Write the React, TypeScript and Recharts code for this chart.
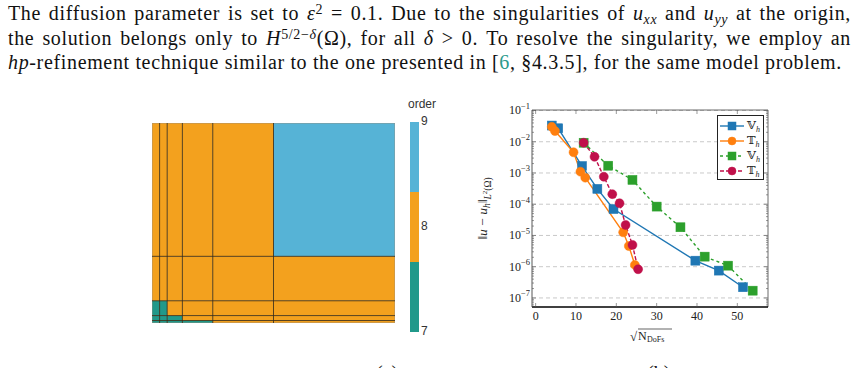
import React from 'react'
import {
  ComposedChart,
  LineChart,
  Line,
  Scatter,
  XAxis,
  YAxis,
  ReferenceArea,
  ReferenceLine,
  Legend,
  Label,
} from 'recharts'

const SERIF = "'Liberation Serif', 'DejaVu Serif', 'DejaVu Sans', serif"
const SANS = "'Liberation Sans', 'DejaVu Sans', sans-serif"

// hp-mesh: geometric breaks towards the corner singularity
const meshX = [0, 1 / 32, 1 / 16, 1 / 8, 1 / 4, 1 / 2, 1]
const meshY = [0, 1 / 81, 1 / 27, 1 / 9, 1 / 3, 1]
// polynomial order of each cell, rows listed bottom to top
const meshOrder = [
  [7, 7, 7, 7, 8, 8],
  [7, 7, 7, 8, 8, 8],
  [7, 7, 8, 8, 8, 8],
  [8, 8, 8, 8, 8, 8],
  [8, 8, 8, 8, 8, 9],
]
const orderLevels = [7, 8, 9]
const orderColor: Record<number, string> = { 7: '#21998a', 8: '#f3a11e', 9: '#56b3d6' }

// error vs sqrt(NDoFs)
const vhX = [4.0, 5.6, 11.5, 15.3, 19.3, 39.6, 45.4, 51.4]
const vhY = [3.3e-2, 2.7e-2, 1.67e-3, 3.1e-4, 7.0e-5, 1.56e-6, 7.5e-7, 2.2e-7]
const thX = [4.0, 4.8, 9.4, 11.1, 12.3, 21.7, 23.1, 24.6]
const thY = [3.0e-2, 2.2e-2, 4.6e-3, 1.1e-3, 7.1e-4, 1.26e-5, 4.6e-6, 1.14e-6]
const vhRefX = [11.9, 18.0, 24.0, 30.0, 35.9, 41.9, 47.7, 53.8]
const vhRefY = [9.3e-3, 1.71e-3, 6.0e-4, 8.4e-5, 1.83e-5, 2.1e-6, 1.08e-6, 1.71e-7]
const thRefX = [11.9, 14.6, 16.9, 19.0, 20.8, 22.3, 24.0, 25.4]
const thRefY = [9.3e-3, 3.3e-3, 7.6e-4, 2.1e-4, 1.07e-4, 2.17e-5, 4.97e-6, 8.3e-7]

const xTicks = [0, 10, 20, 30, 40, 50]
const decades = [1e-1, 1e-2, 1e-3, 1e-4, 1e-5, 1e-6, 1e-7]

const X_MIN = -0.9
const X_MAX = 57.6
const Y_MIN = Math.pow(10, -7.29)
const Y_MAX = Math.pow(10, -0.984)
const PLOT_W = 236
const PLOT_H = 197

const toPts = (xs: number[], ys: number[]) => xs.map((x, i) => ({ x, y: ys[i] }))

const series = [
  { id: 'vh', label: '𝕍', data: toPts(vhX, vhY), color: '#1f77b4', shape: 'square', dash: undefined },
  { id: 'th', label: '𝕋', data: toPts(thX, thY), color: '#ff7f0e', shape: 'circle', dash: undefined },
  { id: 'vhr', label: '𝕍', data: toPts(vhRefX, vhRefY), color: '#2ca02c', shape: 'square', dash: '3 3' },
  { id: 'thr', label: '𝕋', data: toPts(thRefX, thRefY), color: '#c0104a', shape: 'circle', dash: '4 2' },
]

// decade ticks plus minor ticks 2..9 inside the visible range
const yTicks: number[] = []
decades.forEach((d) => {
  for (let m = 1; m <= 9; m++) {
    const v = d * m
    if (v >= Y_MIN && v <= Y_MAX) yTicks.push(v)
  }
})
for (let m = 2; m <= 9; m++) {
  const v = (decades[decades.length - 1] / 10) * m
  if (v >= Y_MIN) yTicks.push(v)
}

const Marker = ({ cx, cy, shape, color, size = 9 }: any) =>
  shape === 'square' ? (
    <rect x={cx - size / 2} y={cy - size / 2} width={size} height={size} fill={color} stroke={color} strokeWidth={0.5} />
  ) : (
    <circle cx={cx} cy={cy} r={size / 2} fill={color} stroke={color} strokeWidth={0.5} />
  )

const YTick = (props: any) => {
  const { x, y, payload } = props
  const lg = Math.log10(payload.value)
  const e = Math.round(lg)
  const major = Math.abs(lg - e) < 1e-6
  const len = major ? 4 : 2
  return (
    <g>
      <line x1={x} x2={x + len} y1={y} y2={y} stroke="#555" strokeWidth={0.6} />
      <line x1={x + PLOT_W - len} x2={x + PLOT_W} y1={y} y2={y} stroke="#555" strokeWidth={0.6} />
      {major && (
        <text x={x - 2} y={y + 4} textAnchor="end" fontSize={12} fontFamily={SERIF} fill="#222">
          10
          <tspan dy={-5.5} fontSize={8.5}>{`−${-e}`}</tspan>
        </text>
      )}
    </g>
  )
}

const XTick = (props: any) => {
  const { x, y, payload } = props
  return (
    <g>
      <line x1={x} x2={x} y1={y} y2={y - 4} stroke="#555" strokeWidth={0.6} />
      <line x1={x} x2={x} y1={y - PLOT_H} y2={y - PLOT_H + 4} stroke="#555" strokeWidth={0.6} />
      <text x={x} y={y + 13} textAnchor="middle" fontSize={12} fontFamily={SERIF} fill="#222">
        {payload.value}
      </text>
    </g>
  )
}

const XTitle = (props: any) => {
  const { viewBox } = props
  const cx = viewBox.x + viewBox.width / 2
  const by = viewBox.y + 33
  return (
    <g fontFamily={SERIF} fill="#222">
      <text x={cx - 20} y={by + 1} fontSize={13}>√</text>
      <line x1={cx - 12} x2={cx + 22} y1={by - 11} y2={by - 11} stroke="#222" strokeWidth={0.7} />
      <text x={cx - 12} y={by} fontSize={12}>N</text>
      <text x={cx - 3} y={by + 2} fontSize={8}>DoFs</text>
    </g>
  )
}

const YTitle = (props: any) => {
  const { viewBox } = props
  const cx = viewBox.x + 17
  const cy = viewBox.y + viewBox.height / 2
  return (
    <text
      x={cx}
      y={cy}
      transform={`rotate(-90 ${cx} ${cy})`}
      textAnchor="middle"
      fontFamily={SERIF}
      fontSize={13.5}
      fill="#222"
    >
      ‖<tspan fontStyle="italic">u</tspan> − <tspan fontStyle="italic">u</tspan>
      <tspan dy={3} fontSize={9.5} fontStyle="italic">h</tspan>
      <tspan dy={-3}>‖</tspan>
      <tspan dy={3.5} fontSize={9.5} fontStyle="italic">L</tspan>
      <tspan dy={-3.5} fontSize={7}>2</tspan>
      <tspan dy={3.5} fontSize={9.5}>(Ω)</tspan>
    </text>
  )
}

const LegendBox = () => (
  <div
    style={{
      border: '1px solid #222',
      background: '#fff',
      padding: '2px 3px 1px 2px',
      fontFamily: SERIF,
      fontSize: 11.5,
      lineHeight: '15px',
      color: '#222',
    }}
  >
    {series.map((s) => (
      <div key={s.id} style={{ display: 'flex', alignItems: 'center', height: 15 }}>
        <svg width={24} height={12}>
          <line x1={0} x2={24} y1={6} y2={6} stroke={s.color} strokeWidth={1.4} strokeDasharray={s.dash} />
          <Marker cx={12} cy={6} shape={s.shape} color={s.color} size={8} />
        </svg>
        <span style={{ marginLeft: 3 }}>
          {s.label}
          <sub style={{ fontSize: 8, fontStyle: 'italic', lineHeight: 0 }}>h</sub>
        </span>
      </div>
    ))}
  </div>
)

const noMark = () => <g />

function MeshPlot() {
  const cells: { x: number; y: number; x1: number; x2: number; y1: number; y2: number; p: number }[] = []
  meshOrder.forEach((row, j) =>
    row.forEach((p, i) =>
      cells.push({
        x: (meshX[i] + meshX[i + 1]) / 2,
        y: (meshY[j] + meshY[j + 1]) / 2,
        x1: meshX[i],
        x2: meshX[i + 1],
        y1: meshY[j],
        y2: meshY[j + 1],
        p,
      }),
    ),
  )
  return (
    <ComposedChart width={243} height={200} data={cells} margin={{ top: 0, right: 0, bottom: 0, left: 0 }}>
      <XAxis type="number" dataKey="x" domain={[0, 1]} hide />
      <YAxis type="number" dataKey="y" domain={[0, 1]} hide />
      {cells.map((c, k) => (
        <ReferenceArea
          key={k}
          x1={c.x1}
          x2={c.x2}
          y1={c.y1}
          y2={c.y2}
          fill={orderColor[c.p]}
          fillOpacity={1}
          stroke="none"
        />
      ))}
      {meshX.slice(1, -1).map((v) => (
        <ReferenceLine key={'x' + v} x={v} stroke="#3a2c14" strokeWidth={1} strokeOpacity={0.85} />
      ))}
      {meshY.slice(1, -1).map((v) => (
        <ReferenceLine key={'y' + v} y={v} stroke="#3a2c14" strokeWidth={1} strokeOpacity={0.85} />
      ))}
      <ReferenceArea x1={0} x2={1} y1={0} y2={1} fill="none" stroke="#9a8f80" strokeWidth={0.8} />
      <Scatter data={cells} dataKey="y" shape={noMark} isAnimationActive={false} />
    </ComposedChart>
  )
}

function OrderBar() {
  const lo = orderLevels[0]
  const hi = orderLevels[orderLevels.length - 1]
  const step = (hi - lo) / orderLevels.length
  const bands = orderLevels.map((p, i) => ({ x: 0.5, y: lo + (i + 0.5) * step, y1: lo + i * step, y2: lo + (i + 1) * step, p }))
  return (
    <ComposedChart width={45} height={245} data={bands} margin={{ top: 22, right: 0, bottom: 13, left: 5 }}>
      <XAxis type="number" dataKey="x" domain={[0, 1]} hide />
      <YAxis
        type="number"
        dataKey="y"
        orientation="right"
        domain={[lo, hi]}
        ticks={orderLevels}
        interval={0}
        width={31}
        tickSize={0}
        tickLine={false}
        axisLine={false}
        tickMargin={2}
        tick={{ fill: '#333', fontSize: 12, fontFamily: SANS, dy: -1 }}
      />
      {bands.map((b) => (
        <ReferenceArea key={b.p} x1={0} x2={1} y1={b.y1} y2={b.y2} fill={orderColor[b.p]} fillOpacity={1} stroke="none" />
      ))}
      <Scatter data={bands} dataKey="y" shape={noMark} isAnimationActive={false} />
    </ComposedChart>
  )
}

function ErrorPlot() {
  return (
    <LineChart width={310} height={250} margin={{ top: 10, right: 12, bottom: 0, left: 0 }}>
      {decades.map((d) => (
        <ReferenceLine key={d} y={d} stroke="#bbb" strokeWidth={0.8} strokeDasharray="4 3" />
      ))}
      <ReferenceLine y={Y_MAX} stroke="#444" strokeWidth={0.8} />
      <ReferenceLine x={X_MAX} stroke="#444" strokeWidth={0.8} />
      <XAxis
        type="number"
        dataKey="x"
        domain={[X_MIN, X_MAX]}
        allowDataOverflow
        ticks={xTicks}
        interval={0}
        height={43}
        tickSize={0}
        tickMargin={0}
        tickLine={false}
        axisLine={{ stroke: '#000', strokeWidth: 1.4 }}
        tick={<XTick />}
      >
        <Label content={<XTitle />} />
      </XAxis>
      <YAxis
        type="number"
        scale="log"
        domain={[Y_MIN, Y_MAX]}
        allowDataOverflow
        ticks={yTicks}
        interval={0}
        width={62}
        tickSize={0}
        tickMargin={0}
        tickLine={false}
        axisLine={{ stroke: '#444', strokeWidth: 0.9 }}
        tick={<YTick />}
      >
        <Label content={<YTitle />} />
      </YAxis>
      {series.map((s) => (
        <Line
          key={s.id}
          data={s.data}
          dataKey="y"
          name={s.id}
          stroke={s.color}
          strokeWidth={1.4}
          strokeDasharray={s.dash}
          isAnimationActive={false}
          dot={(p: any) => <Marker key={p.index} cx={p.cx} cy={p.cy} shape={s.shape} color={s.color} />}
          activeDot={false}
        />
      ))}
      <Legend
        layout="vertical"
        align="center"
        verticalAlign="middle"
        content={() => <LegendBox />}
        wrapperStyle={{ left: 247, top: 15, width: 'auto', height: 'auto' }}
      />
    </LineChart>
  )
}

const line: React.CSSProperties = { whiteSpace: 'nowrap', height: 24.5 }
const justified: React.CSSProperties = { ...line, textAlign: 'justify', textAlignLast: 'justify' }
const sup: React.CSSProperties = { fontSize: '70%', verticalAlign: '0.45em', lineHeight: 0 }
const sub: React.CSSProperties = { fontSize: '70%', verticalAlign: '-0.25em', lineHeight: 0 }

export default function App() {
  return (
    <div
      style={{
        position: 'absolute',
        left: 0,
        top: 0,
        width: 858,
        height: 368,
        overflow: 'hidden',
        background: '#fff',
        fontFamily: SERIF,
        color: '#111',
      }}
    >
      <div
        style={{
          position: 'absolute',
          left: 8,
          top: 1,
          width: 843,
          fontSize: 20,
          lineHeight: '24.5px',
          letterSpacing: 0.65,
        }}
      >
        <div style={justified}>
          The diffusion parameter is set to <i>ε</i>
          <span style={sup}>2</span> = 0.1. Due to the singularities of <i>u</i>
          <span style={sub}>
            <i>xx</i>
          </span>{' '}
          and <i>u</i>
          <span style={sub}>
            <i>yy</i>
          </span>{' '}
          at the origin,
        </div>
        <div style={justified}>
          the solution belongs only to <i>H</i>
          <span style={sup}>
            5/2−<i>δ</i>
          </span>
          (Ω), for all <i>δ</i> &gt; 0. To resolve the singularity, we employ an
        </div>
        <div style={line}>
          <i>hp</i>-refinement technique similar to the one presented in [<span style={{ color: '#2b9a8c' }}>6</span>,
          §4.3.5], for the same model problem.
        </div>
      </div>

      <div style={{ position: 'absolute', left: 152, top: 123 }}>
        <MeshPlot />
      </div>
      <div style={{ position: 'absolute', left: 405, top: 100 }}>
        <OrderBar />
      </div>
      <div
        style={{
          position: 'absolute',
          left: 408,
          top: 98,
          fontFamily: SANS,
          fontSize: 12,
          lineHeight: '13px',
          color: '#333',
        }}
      >
        order
      </div>
      <div style={{ position: 'absolute', left: 470, top: 100 }}>
        <ErrorPlot />
      </div>

      <div style={{ position: 'absolute', left: 376, top: 361, fontSize: 20, lineHeight: '24.5px' }}>(a)</div>
      <div style={{ position: 'absolute', left: 647, top: 361, fontSize: 20, lineHeight: '24.5px' }}>(b)</div>
    </div>
  )
}
